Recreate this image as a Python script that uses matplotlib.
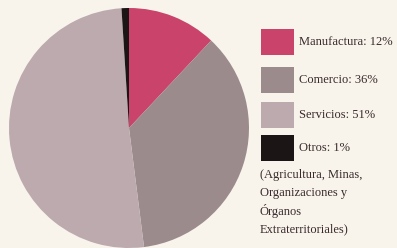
import matplotlib
matplotlib.use("Agg")
import matplotlib.pyplot as plt
from matplotlib.patches import Rectangle

categories = ["Manufactura", "Comercio", "Servicios", "Otros"]
values = [12, 36, 51, 1]
colors = ["#c9436a", "#9c8b8c", "#bcaaae", "#1c1516"]
note_lines = ["(Agricultura, Minas,", "Organizaciones y", "Órganos", "Extraterritoriales)"]

W, H = 397, 248
bg = "#f8f4ec"
fig = plt.figure(figsize=(W / 100, H / 100), dpi=100, facecolor=bg)

cx, cy, r = 129, 128, 120
ax = fig.add_axes([(cx - r) / W, (H - cy - r) / H, 2 * r / W, 2 * r / H])
ax.set_facecolor(bg)
ax.pie(values, colors=colors, startangle=90, counterclock=False,
       wedgeprops=dict(linewidth=0))
ax.set_aspect("auto")
ax.set_xlim(-1, 1)
ax.set_ylim(-1, 1)
ax.axis("off")

font = dict(family=["Liberation Serif", "DejaVu Serif"], size=9, color="#3a2a2c")
rows_y = [42, 80, 115, 148]
for cat, val, col, y in zip(categories, values, colors, rows_y):
    x0, w, h = 261, 33, 26
    fig.patches.append(Rectangle((x0 / W, (H - y - h / 2) / H), w / W, h / H,
                                 transform=fig.transFigure, facecolor=col,
                                 edgecolor="none"))
    fig.text(299 / W, (H - y) / H, f"{cat}: {val}%", va="center", ha="left", **font)

for i, line in enumerate(note_lines):
    fig.text(260 / W, (H - 175 - 18 * i) / H, line, va="center", ha="left", **font)

fig.savefig("out.png", dpi=100, facecolor=bg)
